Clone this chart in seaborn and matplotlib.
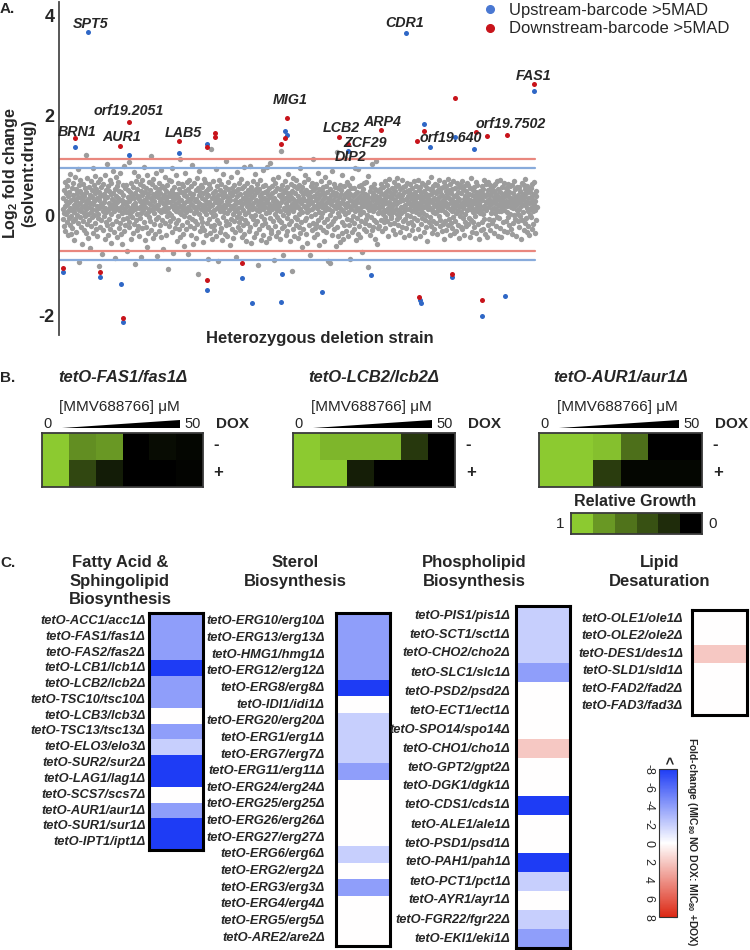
import numpy as np
import pandas as pd
import matplotlib
matplotlib.use("Agg")
import matplotlib.pyplot as plt
import seaborn as sns
from matplotlib.colors import LinearSegmentedColormap
from matplotlib.lines import Line2D

# ---------------- DATA ----------------
# Panel A: log2 fold change (x100) for heterozygous deletion strains, in strain order
gray_lfc_x100 = [
 12, -8, 35, 51, -22, 4, 67, 18, -31, 29, 44, 2, -14, 58, 23, -40, 9, 71, 38, -5,
 26, 47, -19, 15, 83, -2, 31, -37, 55, 10, -26, 40, 64, -11, 20, 6, -49, 33, 77, 14,
 -7, 52, 28, -33, 45, 1, 19, 92, -16, 37, 60, -93, 11, 25, -3, 49, 70, -24, 8, 34,
 42, -58, 16, 30, -12, 63, 5, 39, -29, 21, 54, -1, 121, 13, -36, 46, 27, -18, 74, 3,
 -45, 32, 57, 17, -9, 41, -66, 24, 68, 7, -21, 50, 36, -4, 12, 95, -35, 22, 61, 0,
 28, -15, 44, 79, -27, 10, 53, -41, 19, 35, 66, -6, 2, 47, -102, 31, 15, 72, -23, 38,
 56, -10, 23, -78, 40, 18, 62, -30, 9, 43, 27, -1, 81, 14, -47, 34, 51, -13, 6, 103,
 -20, 37, 11, 59, -39, 25, 48, -7, 70, 16, -28, 42, 3, 64, -55, 20, 33, -17, 89, 12,
 45, -34, 29, 8, -86, 52, 21, 76, -11, 39, 14, -44, 58, 26, -2, 67, 35, -25, 10, 49,
 -16, 31, 84, -38, 17, 46, 4, -57, 30, 61, 22, -8, 41, 13, 99, -32, 27, 55, -19, 7,
 24, 60, -5, 18, -71, 36, 50, 9, -24, 107, 28, -13, 47, 3, 32, -48, 65, 15, -3, 41,
 8, -36, 57, 21, 86, -18, 34, 12, -97, 44, 25, 69, -9, 16, 53, -30, 2, 38, 78, -21,
 33, 14, -42, 62, 29, -6, 48, -83, 19, 5, 71, 40, -26, 11, 58, 23, -14, 97, 30, -50,
 17, 46, 3, -23, 55, 36, -64, 26, 81, 7, -35, 43, 13, 66, -4, 22, 50, -12, 35, 118,
 -29, 10, 63, 31, -46, 18, 42, 73, -17, 28, 4, 56, -38, 39, 15, -7, 85, 21, 47, -81,
 37, -3, 20, 52, -31, 64, 11, -20, 45, 29, 90, -43, 6, 34, 59, -10, 24, 13, -68, 41,
 54, 22, -15, 8, 76, 33, -40, 17, 49, -2, 61, 27, -108, 14, 38, 70, -22, 5, 44, 26,
 -12, 68, 39, 1, -33, 51, 19, 94, -6, 30, -75, 42, 12, 57, -25, 35, 23, 80, -16, 9,
 43, 15, -51, 27, 65, -9, 36, 7, -28, 53, 18, -44, 112, 31, 2, 46, -19, 62, 10, -37,
 21, 58, -1, 40, -61, 24, 13, 48, 84, -27, 38, 6, -14, 67, 29, -77, 16, 52, 33, -4,
 70, -21, 30, 11, 45, -39, 59, 23, -8, 36, 101, -58, 19, 42, 4, -26, 64, 14, 28, -11,
 50, 8, -45, 32, 74, 17, -18, 55, -118, 26, 40, 3, 88, -32, 22, 47, -5, 12, 61, -24,
 35, -13, 57, 20, -53, 44, 9, 72, -29, 31, 16, 66, -40, 2, 49, 25, -16, 39, -88, 53,
 13, 41, -7, 63, 27, -36, 18, 54, 6, -22, 133, 34, -47, 21, 45, -2, 68, 10, -30, 37,
 -19, 26, 48, 1, 92, -42, 33, 15, -10, 58, 24, -91, 40, 71, -15, 30, 8, 51, -34, 19,
 62, 29, -25, 43, 12, -50, 36, 82, -4, 21, 46, 7, -37, 56, 17, -12, 39, 109, -20, 28,
 5, -41, 52, 23, 67, -17, 34, 10, -59, 44, 30, 76, -8, 18, 40, -28, 55, 14, 3, -46,
 47, 20, -11, 60, 31, -34, 9, 49, 25, -84, 38, 86, -3, 15, 53, -23, 27, 4, 65, -14,
 28, -30, 42, 16, 73, -6, 55, -44, 22, 35, 11, -19, 59, 97, -38, 26, 45, 2, -9, 32,
 -52, 39, 18, 64, -15, 27, 50, 6, -31, 43, 14, 98, -24, 33, -1, 57, 20, -56, 48, 12,
 36, -7, 69, 24, -43, 15, 41, 0, 83, -18, 30, 52, -35, 10, 46, -12, 62, 27, -99, 21,
 9, 53, -27, 38, 17, 71, -49, 32, -2, 44, 25, -20, 58, 13, 90, -39, 35, 19, -8, 47,
 60, -16, 26, 5, -54, 48, 31, 96, -23, 14, 40, -45, 22, 55, 7, -5, 37, 104, -29, 18,
 -36, 45, 12, 58, 29, -11, 73, -89, 20, 34, 3, 49, -21, 65, 16, -42, 28, 10, 54, -3,
 23, 76, -33, 40, -9, 19, 52, 8, -47, 36, 128, -14, 27, 61, -26, 43, 1, -79, 32, 15,
 51, -22, 34, 11, 68, -40, 25, 46, -6, 57, 18, -31, 39, 4, 82, -17, 30, 13, -52, 44,
 16, 63, -12, 37, -112, 22, 49, 9, 75, -28, 33, 14, -41, 59, 26, -3, 45, 20, -19, 70,
 -8, 29, 54, -46, 17, 39, 2, 61, -24, 31, 95, -36, 12, 48, -13, 24, 57, -64, 7, 35,
 42, -27, 19, 67, 30, -10, 44, 80, -38, 15, 51, -5, 28, 6, -55, 40, 21, 72, -20, 33,
 11, 47, -79, 24, 58, -2, 36, -30, 13, 64, 27, -16, 50, 112, -43, 18, 39, 3, -25, 55,
 30, -18, 62, 14, -37, 45, 22, 85, -9, 34, 7, -60, 53, 19, 41, -23, 26, 69, -4, 16,
 48, 5, -29, 56, 32, -51, 20, 43, -14, 77, 10, 37, -33, 24, 59, -7, 15, 46, -92, 29,
 -21, 35, 12, 66, -95, 27, 52, 1, -17, 40, 23, 88, -39, 8, 47, -11, 31, 63, -28, 18,
 57, -6, 38, 21, -62, 44, 15, 126, -24, 29, 4, 55, -42, 36, 17, -1, 60, 25, -53, 42,
 13, 50, -35, 26, 81, -13, 33, 9, -48, 58, 22, -19, 39, 2, 115, -31, 45, 16, -8, 67,
 25, -41, 48, 7, 36, 61, -20, 18, -87, 43, 30, -10, 54, 12, -34, 28, 74, -2, 21, 38,
 -15, 55, 20, -28, 42, 9, 95, -50, 31, 16, 47, -5, 26, 93, -37, 35, 11, -22, 58, 3,
 39, 14, -44, 60, 24, -12, 46, 31, -73, 19, 52, 6, -27, 37, 65, -16, 23, 43, -7, 29,
 66, -32, 17, 41, 1, -104, 34, 78, -19, 27, 10, -40, 49, 22, -3, 57, 14, -30, 36, 102,
 8, 44, -23, 30, 63, -9, 21, -47, 52, 15, 38, -14, 108, 26, -58, 33, 5, 49, -26, 19,
 14, 37, -21, 52, 6, 28, -9, 44, 63, 19, -32, 31, 2, 57, 23, -14, 40, 11, 68, -3,
 33, -26, 47, 9, 24, 60, -11, 38, 15, -41, 50, 27, 4, 72, -18, 36, 21, -6, 45, 12,
 -1, 55, 18, 34, -29, 42, 7, 66, 25, -15, 30, 48, -37, 13, 59, 22, -8, 39, 3, 74,
 26, -19, 61, 10, 43, -4, 29, 53, -34, 17, 35, 5, 70, -23, 41, 16, -12, 56, 30, -44,
 8, 46, 20, -7, 58, 32, -25, 13, 49, 1, 65, -16, 38, 24, -39, 51, 12, 27, -2, 44,
 62, -13, 35, 19, -30, 54, 9, 41, 23, -20, 69, 28, -5, 47, 15, -46, 33, 6, 59, 21,
 -10, 39, 25, 71, -27, 14, 50, 3, 36, -42, 22, 57, 11, -17, 45, 30, 64, -6, 18, 37,
 29, 5, -33, 48, 16, 60, -9, 27, 42, 0, -24, 55, 20, 34, -51, 13, 67, 24, -14, 40,
 17, 52, -3, 31, 76, -21, 43, 10, -36, 26, 58, 7, -11, 49, 35, -28, 19, 63, 4, 32,
 -15, 44, 22, 9, 61, -38, 28, 51, 14, -2, 37, 70, -22, 18, 46, -9, 25, 55, 11, -31,
 40, 13, -18, 57, 30, -47, 21, 66, 6, 34, -12, 48, 24, -30, 59, 16, 3, 42, 73, -20,
 23, -7, 50, 35, -40, 12, 62, 27, -16, 44, 8, 53, -26, 31, 19, 68, -4, 38, 14, -35,
 54, 26, -11, 41, 4, -32, 65, 20, 36, -19, 47, 10, 28, -45, 56, 33, -1, 18, 60, -23,
 7, 45, -28, 24, 69, 15, -6, 52, 32, -39, 21, 58, 2, 39, -13, 29, 48, -21, 11, 64,
 35, -17, 20, 60, -5, 43, 26, -43, 12, 55, 31, -10, 74, 17, 40, -33, 23, 6, 50, -14,
 -24, 31, 57, 13, 38, -1, 66, 22, -35, 47, 9, 28, 61, -18, 34, 16, -48, 42, 25, 5,
 49, 18, -30, 36, 11, 59, -14, 30, 45, 2, -27, 53, 19, 70, -8, 38, 14, -37, 27, 63,
 10, -43, 42, 28, 67, -20, 17, 50, 33, -7, 24, 61, -29, 40, 5, 55, 22, -15, 46, 13,
 58, 29, -9, 15, 48, -36, 37, 4, 62, 25, -22, 43, 12, -3, 68, 31, -41, 20, 53, 8,
 -6, 36, 19, 71, -25, 46, 27, 9, -44, 33, 57, 15, -13, 41, 24, 64, -31, 11, 39, 21,
 44, -12, 28, 55, 7, -34, 51, 19, 38, -4, 63, 26, -19, 47, 3, 30, 58, -27, 16, 35,
 22, 60, -38, 32, 14, 45, -16, 25, 69, 1, 37, -8, 52, 20, -42, 34, 10, 56, 29, -11,
 3, 41, 26, -23, 57, 12, 36, -2, 48, 30, -47, 18, 65, 23, -10, 43, 6, 33, 61, -29,
 39, -15, 53, 20, 72, -6, 27, 44, -33, 15, 58, 9, -21, 35, 50, 25, -40, 13, 46, 0,
 27, 54, -4, 37, -28, 17, 62, 31, 8, -17, 42, 21, 67, -35, 29, 11, 49, -9, 38, 16,
]
# >5MAD hits (strain index, log2 fold change)
up_strain = [80, 39, 210, 368, 456, 704, 710, 903, 1086, 1143, 1163, 1241, 1302, 1491,
             0, 117, 185, 191, 456, 567, 599, 690, 693, 821, 975, 1130, 1133, 1232, 1328, 1400]
up_lfc = [3.66, 1.36, 1.20, 1.24, 1.42, 1.68, 1.60, 1.28, 3.64, 1.82, 1.36, 1.56, 1.32, 2.48,
          -1.14, -1.24, -1.38, -2.14, -1.50, -1.26, -1.76, -1.74, -1.18, -1.54, -1.20, -1.70, -1.76, -1.24, -2.02, -1.62]
down_strain = [39, 210, 182, 368, 456, 482, 482, 710, 704, 690, 875, 903, 1007, 1143, 1121, 1241, 1308, 1343, 1406, 1491,
               0, 117, 191, 456, 567, 1127, 1232, 1328]
down_lfc = [1.54, 1.86, 1.38, 1.49, 1.36, 1.64, 1.56, 1.94, 1.54, 1.42, 1.56, 1.42, 1.70, 1.68, 1.48, 2.34, 1.66, 1.58, 1.60, 2.62,
            -1.06, -1.14, -2.06, -1.30, -0.96, -1.64, -1.18, -1.70]
thr_down = [1.12, -0.72]
thr_up = [0.94, -0.90]
hit_names = ['SPT5', 'BRN1', 'orf19.2051', 'AUR1', 'LAB5', 'MIG1', 'LCB2', 'ZCF29', 'DIP2',
             'ARP4', 'CDR1', 'FAS1', 'orf19.640', 'orf19.7502']
hit_label_x = [89, 45, 210, 185, 381, 719, 881, 957, 909, 1011, 1083, 1491, 1229, 1416]
hit_label_y = [3.82, 1.66, 2.08, 1.56, 1.64, 2.30, 1.74, 1.44, 1.16, 1.86, 3.84, 2.78, 1.54, 1.82]

# Panel B: relative growth, rows = DOX -, DOX +; columns = increasing MMV688766 (0 .. 50 uM)
growth_fas1 = [[1.00, 0.70, 0.75, 0.00, 0.06, 0.03],
               [1.00, 0.35, 0.14, 0.00, 0.00, 0.02]]
growth_lcb2 = [[1.00, 0.90, 0.90, 0.90, 0.28, 0.00],
               [1.00, 1.00, 0.15, 0.00, 0.00, 0.00]]
growth_aur1 = [[1.00, 1.00, 0.95, 0.55, 0.00, 0.00],
               [1.00, 1.00, 0.30, 0.03, 0.03, 0.03]]
growth_scale = [1.00, 0.75, 0.57, 0.40, 0.22, 0.00]
strain_titles = ['tetO-FAS1/fas1Δ', 'tetO-LCB2/lcb2Δ', 'tetO-AUR1/aur1Δ']

# Panel C: fold change MIC80 (no DOX : +DOX)
fatty_genes = ['tetO-ACC1/acc1Δ', 'tetO-FAS1/fas1Δ', 'tetO-FAS2/fas2Δ', 'tetO-LCB1/lcb1Δ',
               'tetO-LCB2/lcb2Δ', 'tetO-TSC10/tsc10Δ', 'tetO-LCB3/lcb3Δ', 'tetO-TSC13/tsc13Δ',
               'tetO-ELO3/elo3Δ', 'tetO-SUR2/sur2Δ', 'tetO-LAG1/lag1Δ', 'tetO-SCS7/scs7Δ',
               'tetO-AUR1/aur1Δ', 'tetO-SUR1/sur1Δ', 'tetO-IPT1/ipt1Δ']
fatty_fc = [-4, -4, -4, -8, -4, -4, 0, -4, -2, -8, -8, 0, -4, -8, -8]
sterol_genes = ['tetO-ERG10/erg10Δ', 'tetO-ERG13/erg13Δ', 'tetO-HMG1/hmg1Δ', 'tetO-ERG12/erg12Δ',
                'tetO-ERG8/erg8Δ', 'tetO-IDI1/idi1Δ', 'tetO-ERG20/erg20Δ', 'tetO-ERG1/erg1Δ',
                'tetO-ERG7/erg7Δ', 'tetO-ERG11/erg11Δ', 'tetO-ERG24/erg24Δ', 'tetO-ERG25/erg25Δ',
                'tetO-ERG26/erg26Δ', 'tetO-ERG27/erg27Δ', 'tetO-ERG6/erg6Δ', 'tetO-ERG2/erg2Δ',
                'tetO-ERG3/erg3Δ', 'tetO-ERG4/erg4Δ', 'tetO-ERG5/erg5Δ', 'tetO-ARE2/are2Δ']
sterol_fc = [-4, -4, -4, -4, -8, 0, -2, -2, -2, -4, 0, 0, 0, 0, -2, 0, -4, 0, 0, 0]
phospho_genes = ['tetO-PIS1/pis1Δ', 'tetO-SCT1/sct1Δ', 'tetO-CHO2/cho2Δ', 'tetO-SLC1/slc1Δ',
                 'tetO-PSD2/psd2Δ', 'tetO-ECT1/ect1Δ', 'tetO-SPO14/spo14Δ', 'tetO-CHO1/cho1Δ',
                 'tetO-GPT2/gpt2Δ', 'tetO-DGK1/dgk1Δ', 'tetO-CDS1/cds1Δ', 'tetO-ALE1/ale1Δ',
                 'tetO-PSD1/psd1Δ', 'tetO-PAH1/pah1Δ', 'tetO-PCT1/pct1Δ', 'tetO-AYR1/ayr1Δ',
                 'tetO-FGR22/fgr22Δ', 'tetO-EKI1/eki1Δ']
phospho_fc = [-2, -2, -2, -4, 0, 0, 0, 2, 0, 0, -8, 0, 0, -8, -2, 0, -2, -4]
desat_genes = ['tetO-OLE1/ole1Δ', 'tetO-OLE2/ole2Δ', 'tetO-DES1/des1Δ',
               'tetO-SLD1/sld1Δ', 'tetO-FAD2/fad2Δ', 'tetO-FAD3/fad3Δ']
desat_fc = [0, 0, 2, 0, 0, 0]
cbar_ticks = [-8, -6, -4, -2, 0, 2, 4, 6, 8]

# ---------------- STYLE ----------------
sns.set_theme(style="white")
plt.rcParams['font.family'] = ['Liberation Sans', 'DejaVu Sans']
plt.rcParams['mathtext.fontset'] = 'custom'
plt.rcParams['mathtext.rm'] = 'Liberation Sans'
plt.rcParams['mathtext.bf'] = 'Liberation Sans:bold'
plt.rcParams['mathtext.it'] = 'Liberation Sans:italic'
plt.rcParams['axes.unicode_minus'] = False

W, H = 750, 950
fig = plt.figure(figsize=(7.5, 9.5), dpi=100)


def box(x0, y0, x1, y1):
    return [x0 / W, 1 - y1 / H, (x1 - x0) / W, (y1 - y0) / H]


def ftext(px, py, s, **kw):
    fig.text(px / W, 1 - py / H, s, **kw)


BLUE = '#2f67c6'
RED = '#c8141b'

# ---------------- PANEL A ----------------
axA = fig.add_axes(box(59, 2, 540, 335))
gy = np.array(gray_lfc_x100) / 100.0
gx = np.arange(len(gy))
sns.scatterplot(x=gx, y=gy, color='#9c9c9c', s=15, linewidth=0, ax=axA, zorder=1)
for v in thr_down:
    axA.axhline(v, xmax=0.99, color='#e9877e', lw=1.6, zorder=2)
for v in thr_up:
    axA.axhline(v, xmax=0.99, color='#88abdb', lw=1.6, zorder=2)
sns.scatterplot(x=up_strain, y=up_lfc, color=BLUE, s=13, linewidth=0, ax=axA, zorder=3)
sns.scatterplot(x=down_strain, y=down_lfc, color=RED, s=13, linewidth=0, ax=axA, zorder=4)
for name, lx, ly in zip(hit_names, hit_label_x, hit_label_y):
    axA.text(lx, ly, name, ha='center', va='center', fontsize=10.3,
             fontweight='bold', style='italic', zorder=5)
axA.set_xlim(-12, 1510)
axA.set_ylim(-2.4, 4.26)
axA.set_yticks([-2, 0, 2, 4])
axA.set_yticklabels(['-2', '0', '2', '4'], fontsize=13, fontweight='bold')
axA.set_xticks([])
axA.set_xlabel('')
axA.set_ylabel('')
axA.tick_params(axis='y', length=2, pad=1, color='#444444')
for side in ['top', 'right', 'bottom']:
    axA.spines[side].set_visible(False)
axA.spines['left'].set_color('#4a4a4a')
axA.spines['left'].set_linewidth(1.3)
leg_handles = [Line2D([0], [0], marker='o', ls='', color='#4a78d2', markersize=5.5,
                      label='Upstream-barcode >5MAD'),
               Line2D([0], [0], marker='o', ls='', color=RED, markersize=5.5,
                      label='Downstream-barcode >5MAD')]
axA.legend(handles=leg_handles, loc='upper left', bbox_to_anchor=((482 - 59) / 481, (335 - 3) / 333),
           frameon=False, fontsize=12, handlelength=1.0, handletextpad=0.6, labelspacing=0.2,
           borderpad=0, borderaxespad=0)
ftext(320, 338, 'Heterozygous deletion strain', ha='center', va='center', fontsize=12, fontweight='bold')
ftext(19, 173, 'Log$_\\mathbf{2}$ fold change\n(solvent:drug)', ha='center', va='center',
      rotation=90, fontsize=11.5, fontweight='bold', multialignment='center', linespacing=1.1)
ftext(0, 9, 'A.', ha='left', va='center', fontsize=11, fontweight='bold')

# ---------------- PANEL B ----------------
cmap_growth = LinearSegmentedColormap.from_list('growth', ['#000000', '#8cca30'])
ftext(0, 378, 'B.', ha='left', va='center', fontsize=11, fontweight='bold')


def growth_panel(vals, x0, x1, title):
    ax = fig.add_axes(box(x0, 433, x1, 487))
    df = pd.DataFrame(vals, index=['-', '+'])
    sns.heatmap(df, ax=ax, cmap=cmap_growth, vmin=0, vmax=1, cbar=False,
                xticklabels=False, yticklabels=False)
    ax.set_xlabel('')
    ax.set_ylabel('')
    for sp in ax.spines.values():
        sp.set_visible(True)
        sp.set_color('#3a3a3a')
        sp.set_linewidth(1.3)
    ax.fill([0.75, 5.15, 5.15], [-0.2, -0.2, -0.47], color='black', clip_on=False, lw=0)
    ax.set_xlim(0, 6)
    ax.set_ylim(2, 0)
    ax.text(3, -2.04, title, ha='center', va='center', fontsize=12, fontweight='bold', style='italic')
    ax.text(2.9, -0.96, '[MMV688766] μM', ha='center', va='center', fontsize=11)
    ax.text(0.22, -0.32, '0', ha='center', va='center', fontsize=10.5)
    ax.text(5.62, -0.32, '50', ha='center', va='center', fontsize=10.5)
    ax.text(7.1, -0.33, 'DOX', ha='center', va='center', fontsize=11, fontweight='bold')
    ax.text(6.4, 0.42, '-', ha='left', va='center', fontsize=12, fontweight='bold')
    ax.text(6.4, 1.48, '+', ha='left', va='center', fontsize=12, fontweight='bold')
    return ax


growth_panel(growth_fas1, 42, 203, strain_titles[0])
growth_panel(growth_lcb2, 293, 455, strain_titles[1])
growth_panel(growth_aur1, 539, 702, strain_titles[2])

axL = fig.add_axes(box(571, 513, 702, 534))
sns.heatmap(pd.DataFrame([growth_scale]), ax=axL, cmap=cmap_growth, vmin=0, vmax=1, cbar=False,
            xticklabels=False, yticklabels=False)
axL.set_xlabel('')
axL.set_ylabel('')
for sp in axL.spines.values():
    sp.set_visible(True)
    sp.set_color('#3a3a3a')
    sp.set_linewidth(1.3)
ftext(635, 502, 'Relative Growth', ha='center', va='center', fontsize=11.5, fontweight='bold')
ftext(560, 524, '1', ha='center', va='center', fontsize=11)
ftext(713, 524, '0', ha='center', va='center', fontsize=11)

# ---------------- PANEL C ----------------
cmap_fc = LinearSegmentedColormap.from_list('fc', ['#1e3cf5', '#ffffff', '#dc2814'])
ftext(0, 563, 'C.', ha='left', va='center', fontsize=11, fontweight='bold')

cax = fig.add_axes(box(659, 769, 677, 917))


def fc_panel(genes, vals, x0, y0, x1, y1, pad, cbar_ax=None):
    ax = fig.add_axes(box(x0, y0, x1, y1))
    df = pd.DataFrame({'fc': vals}, index=genes)
    sns.heatmap(df, ax=ax, cmap=cmap_fc, vmin=-8, vmax=8, cbar=cbar_ax is not None,
                cbar_ax=cbar_ax, xticklabels=False, yticklabels=True)
    ax.set_xlabel('')
    ax.set_ylabel('')
    ax.tick_params(axis='y', length=0, pad=pad, labelsize=9.3, rotation=0)
    for lab in ax.get_yticklabels():
        lab.set_fontweight('bold')
        lab.set_fontstyle('italic')
    for sp in ax.spines.values():
        sp.set_visible(True)
        sp.set_color('black')
        sp.set_linewidth(2.2)
    return ax


axC1 = fc_panel(fatty_genes, fatty_fc, 149, 613, 203, 850, 2.5, cbar_ax=cax)
fc_panel(sterol_genes, sterol_fc, 336, 613, 390, 946, 8.0)
fc_panel(phospho_genes, phospho_fc, 516, 606, 570, 948, 4.0)
fc_panel(desat_genes, desat_fc, 692, 610, 747, 715, 6.5)

title_kw = dict(ha='center', va='top', fontsize=12, fontweight='bold', linespacing=1.3,
                multialignment='center')
ftext(120, 555, 'Fatty Acid &\nSphingolipid\nBiosynthesis', **title_kw)
ftext(295, 555, 'Sterol\nBiosynthesis', **title_kw)
ftext(474, 555, 'Phospholipid\nBiosynthesis', **title_kw)
ftext(660, 555, 'Lipid\nDesaturation', **title_kw)

cb = axC1.collections[0].colorbar
cb.set_ticks(cbar_ticks)
cb.set_ticklabels([str(t) for t in cbar_ticks])
cb.ax.set_ylim(8, -8)
cb.ax.yaxis.set_ticks_position('both')
cb.ax.tick_params(axis='y', left=False, right=True, labelleft=True, labelright=False,
                  direction='in', length=3, width=0.8, pad=3.5, labelsize=9, color='#333333')
for t in cb.ax.get_yticklabels():
    t.set_rotation(270)
    t.set_va('center')
    t.set_ha('right')
cb.outline.set_linewidth(0.8)
cb.outline.set_edgecolor('#333333')
ftext(666, 760, '<', ha='center', va='center', rotation=270, fontsize=10, fontweight='bold')
ftext(692, 842, 'Fold-change (MIC$_\\mathbf{80}$ NO DOX: MIC$_\\mathbf{80}$ +DOX)', ha='center', va='center',
      rotation=270, fontsize=7.5, fontweight='bold')

fig.savefig('out.png', dpi=100)
